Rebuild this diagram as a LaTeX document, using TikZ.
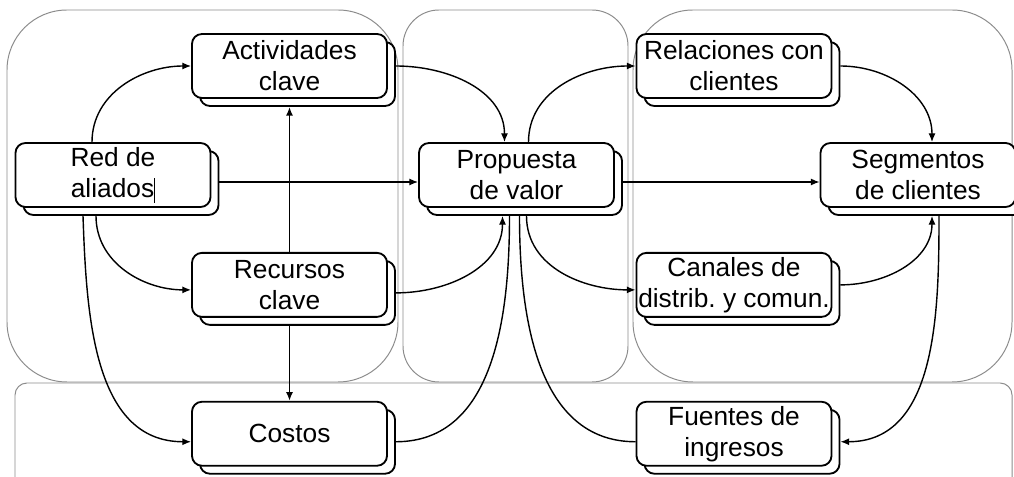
\documentclass[tikz,border=0pt]{standalone}
\usepackage{fontspec}
\setmainfont{Liberation Sans}
\usetikzlibrary{arrows.meta}
\usetikzlibrary{positioning}
\usetikzlibrary{shadows}
\tikzset{bloque/.style={rectangle,rounded corners=0.25cm,fill=white,draw,line width=1.3pt,minimum width=4.875cm,minimum height=1.6cm,inner sep=1pt,align=center,font=\fontsize{18.7}{22}\selectfont,general shadow={draw,fill=white,line width=1.3pt,shadow xshift=0.2cm,shadow yshift=-0.2cm}}}
\tikzset{panel/.style={draw=gray!90,line width=0.7pt}}

\begin{document}
\frenchspacing
\begin{tikzpicture}[x=0.025cm,y=-0.025cm]
    \useasboundingbox (0,0) rectangle (1014,477);
    % fondos
    \draw[panel,rounded corners=1.5cm] (7,10) rectangle (398,382);
    \draw[panel,rounded corners=0.9cm] (403,10) rectangle (628,382);
    \draw[panel,rounded corners=1.5cm] (633,10) rectangle (1012,382);
    \draw[panel,rounded corners=0.3cm] (15,383) rectangle (1012,520);

    \node[bloque] (act) at (289.5,66) {Actividades\\clave};
    \node[bloque] (rec) [below=3.825cm of act] {Recursos\\clave};
    \node[bloque] (cos) [below=2.075cm of rec] {Costos};
    \node[bloque] (red) at (113,175) {Red de\\aliados\rule[-0.2em]{0.7pt}{0.95em}};
    \node[bloque] (prop) at (516.5,175) {Propuesta\\de valor};
    \node[bloque] (rel) at (734,66) {Relaciones con\\clientes};
    \node[bloque] (can) [below=3.825cm of rel] {Canales de\\distrib. y comun.};
    \node[bloque] (fue) [below=2.075cm of can] {Fuentes de\\ingresos};
    \node[bloque] (seg) at (918,175) {Segmentos\\de clientes};

    \path [-{Latex[length=2.2mm,width=1.8mm]},line width=1pt]
    ([shift={(-21,0)}]red.north) edge[out=90,in=180] (act.west)
    ([shift={(8,7)}]red.east) edge ([shift={(0,7)}]prop.west)
    ([shift={(-17,8)}]red.south) edge[out=-90,in=180] ([shift={(0,5)}]rec.west)
    ([shift={(-30,8)}]red.south) edge[out=-88,in=180] ([shift={(0,8)}]cos.west)
    (rec.north) edge[line width=1.4pt] ([shift={(0,8)}]act.south)
    ([shift={(0,8)}]rec.south) edge[line width=1.4pt] (cos.north)
    ([shift={(8,0)}]act.east) edge[out=0,in=90] ([shift={(-12,0)}]prop.north)
    ([shift={(8,8)}]rec.east) edge[out=0,in=-90] ([shift={(-14,8)}]prop.south)
    ([shift={(8,8)}]cos.east) edge[-,out=0,in=-90] ([shift={(-7,8)}]prop.south)
    ([shift={(12,0)}]prop.north) edge[out=90,in=180] (rel.west)
    ([shift={(8,7)}]prop.east) edge ([shift={(0,7)}]seg.west)
    ([shift={(10,8)}]prop.south) edge[out=-90,in=180] ([shift={(0,5)}]can.west)
    ([shift={(0,8)}]fue.west) edge[-,out=180,in=-90] ([shift={(3,8)}]prop.south)
    ([shift={(8,0)}]rel.east) edge[out=0,in=90] ([shift={(14,0)}]seg.north)
    ([shift={(8,0)}]can.east) edge[out=0,in=-90] ([shift={(14,8)}]seg.south)
    ([shift={(21,8)}]seg.south) edge[out=-90,in=0] ([shift={(8,8)}]fue.east);

\end{tikzpicture}
\end{document}
